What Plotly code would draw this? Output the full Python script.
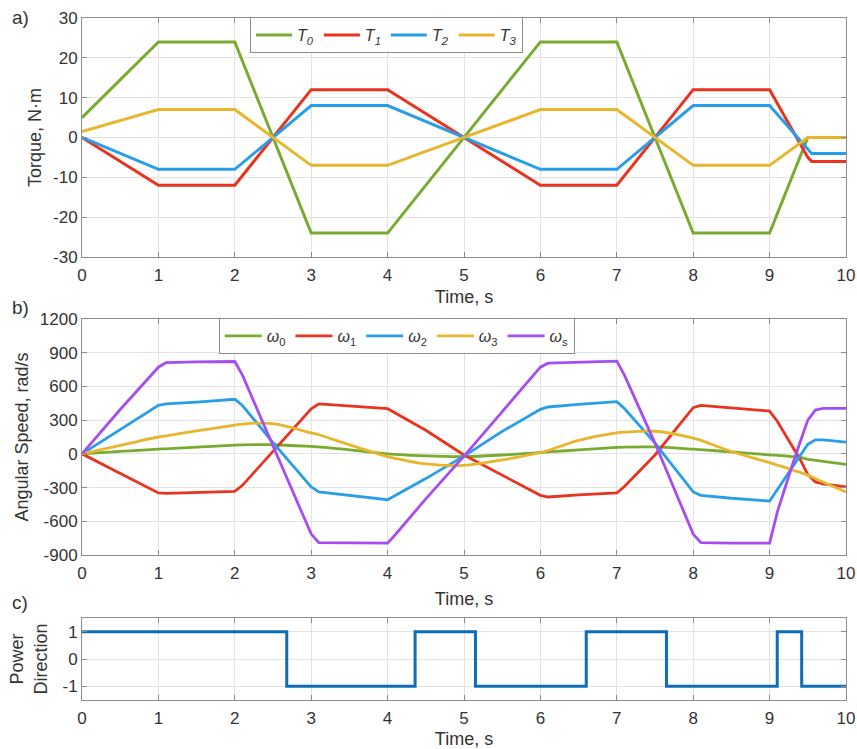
import plotly.graph_objects as go

# ---------------- Panel a: torques ----------------
t_a = [0, 1, 2, 3, 4, 6, 7, 8, 9, 9.5, 9.55, 10]
T0 = [5, 24, 24, -24, -24, 24, 24, -24, -24, 0, 0, 0]
T1 = [0, -12, -12, 12, 12, -12, -12, 12, 12, -5, -6, -6]
T2 = [0, -8, -8, 8, 8, -8, -8, 8, 8, -3, -4, -4]
T3 = [1.5, 7, 7, -7, -7, 7, 7, -7, -7, 0, 0, 0]
ticks_a = [-30, -20, -10, 0, 10, 20, 30]

# ---------------- Panel b: angular speeds ----------------
t_b = [0, 0.5, 1.0, 1.1, 1.5, 2.0, 2.1, 2.5, 3.0, 3.1, 3.5, 4.0, 4.1, 4.5, 5.0,
       5.5, 6.0, 6.1, 6.5, 7.0, 7.1, 7.5, 8.0, 8.1, 8.5, 9.0, 9.1, 9.2, 9.3,
       9.4, 9.5, 9.6, 9.7, 10.0]
w0 = [0, 22, 42, 45, 60, 78, 80, 81, 66, 62, 36, 0, -5, -18, -24,
      -10, 12, 17, 35, 57, 60, 62, 42, 38, 17, -9, -13, -18, -25,
      -32, -48, -57, -66, -93]
w1 = [0, -175, -348, -352, -342, -333, -280, 20, 400, 445, 426, 402, 363, 210, -10,
      -190, -369, -384, -365, -348, -290, -10, 411, 432, 410, 381, 290, 180, 66,
      -50, -185, -250, -268, -294]
w2 = [0, 215, 432, 445, 460, 486, 430, 100, -294, -339, -370, -408, -370, -220, -20,
      200, 396, 417, 440, 465, 403, 96, -339, -369, -395, -420, -320, -220, -110,
      -10, 85, 125, 125, 105]
w3 = [0, 75, 150, 160, 205, 255, 265, 270, 186, 170, 81, -24, -40, -90, -102,
      -54, 12, 30, 120, 186, 193, 201, 141, 120, 21, -78, -100, -120, -145,
      -165, -189, -220, -250, -339]
ws = [0, 395, 771, 812, 818, 822, 700, 70, -714, -790, -795, -795, -720, -400, -20,
      380, 771, 807, 815, 825, 700, 96, -714, -790, -795, -795, -520, -300, -95,
      105, 300, 390, 405, 405]
ticks_b = [-900, -600, -300, 0, 300, 600, 900, 1200]

# ---------------- Panel c: power direction ----------------
t_c = [0, 2.68, 4.36, 5.15, 6.6, 7.65, 9.1, 9.42, 10]
pdir = [1, -1, 1, -1, 1, -1, 1, -1, -1]
ticks_c = [-1, 0, 1]

C_GREEN = "#77AC30"
C_RED = "#E8331F"
C_BLUE = "#289EE8"
C_YEL = "#E8B52C"
C_PUR = "#A64DF2"
C_STEP = "#0E6DB8"

FONT = "Liberation Sans, Arial, sans-serif"
TXT = "#333333"

fig = go.Figure()

for name, y, c in [("<i>T</i><sub><i>0</i></sub>", T0, C_GREEN),
                   ("<i>T</i><sub><i>1</i></sub>", T1, C_RED),
                   ("<i>T</i><sub><i>2</i></sub>", T2, C_BLUE),
                   ("<i>T</i><sub><i>3</i></sub>", T3, C_YEL)]:
    fig.add_trace(go.Scatter(x=t_a, y=y, mode="lines", name=name,
                             line=dict(color=c, width=3), xaxis="x", yaxis="y",
                             legend="legend"))

for name, y, c, shp in [("<i>ω</i><sub>0</sub>", w0, C_GREEN, "spline"),
                        ("<i>ω</i><sub>1</sub>", w1, C_RED, "linear"),
                        ("<i>ω</i><sub>2</sub>", w2, C_BLUE, "linear"),
                        ("<i>ω</i><sub>3</sub>", w3, C_YEL, "spline"),
                        ("<i>ω</i><sub>s</sub>", ws, C_PUR, "linear")]:
    fig.add_trace(go.Scatter(x=t_b, y=y, mode="lines", name=name,
                             line=dict(color=c, width=2.8, shape=shp),
                             xaxis="x2", yaxis="y2", legend="legend2"))

fig.add_trace(go.Scatter(x=t_c, y=pdir, mode="lines", showlegend=False,
                         line=dict(color=C_STEP, width=3, shape="hv"),
                         xaxis="x3", yaxis="y3"))

axis_common = dict(showgrid=True, gridcolor="#E3E3E3", gridwidth=1,
                   showline=True, linecolor="#8C8C8C", linewidth=1,
                   mirror="allticks", ticks="inside", ticklen=5,
                   tickcolor="#8C8C8C", zeroline=False, automargin=False,
                   ticklabeloverflow="allow",
                   tickfont=dict(family=FONT, size=17, color=TXT))

x_common = dict(axis_common, domain=[0, 1], range=[0, 10], dtick=1,
                ticklabelstandoff=3)

title_font = dict(family=FONT, size=18, color=TXT)


def lab(v):
    return [str(x) for x in v]


fig.update_layout(
    width=857, height=749,
    margin=dict(l=82, r=11, t=0, b=0, autoexpand=False),
    paper_bgcolor="white", plot_bgcolor="white",
    font=dict(family=FONT, color=TXT),
    xaxis=dict(x_common, anchor="y",
               title=dict(text="Time, s", font=title_font, standoff=6)),
    yaxis=dict(axis_common, domain=[0.6569, 0.9760], range=[-30, 30],
               tickvals=ticks_a, ticktext=lab(ticks_a),
               anchor="x", title=dict(text="Torque, N·m", font=title_font, standoff=6)),
    xaxis2=dict(x_common, anchor="y2",
                title=dict(text="Time, s", font=title_font, standoff=9)),
    yaxis2=dict(axis_common, domain=[0.2590, 0.5741], range=[-900, 1200],
                tickvals=ticks_b, ticktext=lab(ticks_b),
                anchor="x2", title=dict(text="Angular Speed, rad/s", font=title_font, standoff=6)),
    xaxis3=dict(x_common, anchor="y3",
                title=dict(text="Time, s", font=title_font, standoff=5)),
    yaxis3=dict(axis_common, domain=[0.0654, 0.1749], range=[-1.5, 1.5],
                tickvals=ticks_c, ticktext=lab(ticks_c), anchor="x3",
                title=dict(text="Power<br>Direction", font=title_font, standoff=10)),
    legend=dict(orientation="h", x=0.22, xanchor="left", y=0.9773, yanchor="top",
                bgcolor="white", bordercolor="#8C8C8C", borderwidth=1,
                font=dict(family=FONT, size=16, color=TXT), itemwidth=36,
                tracegroupgap=0),
    legend2=dict(orientation="h", x=0.179, xanchor="left", y=0.5754, yanchor="top",
                 bgcolor="white", bordercolor="#8C8C8C", borderwidth=1,
                 font=dict(family=FONT, size=16, color=TXT), itemwidth=37,
                 tracegroupgap=0),
    annotations=[
        dict(text="a)", x=-0.094, y=0.976, xref="paper", yref="paper",
             xanchor="left", yanchor="middle", showarrow=False,
             font=dict(family=FONT, size=19, color=TXT)),
        dict(text="b)", x=-0.094, y=0.590, xref="paper", yref="paper",
             xanchor="left", yanchor="middle", showarrow=False,
             font=dict(family=FONT, size=19, color=TXT)),
        dict(text="c)", x=-0.094, y=0.195, xref="paper", yref="paper",
             xanchor="left", yanchor="middle", showarrow=False,
             font=dict(family=FONT, size=19, color=TXT)),
    ],
)

# remove the default page margin so the figure sits at the window's corner
fig.write_html("out.html",
               config={"displayModeBar": False},
               post_script="document.body.style.margin='0';"
                           "document.body.style.overflow='hidden';")
